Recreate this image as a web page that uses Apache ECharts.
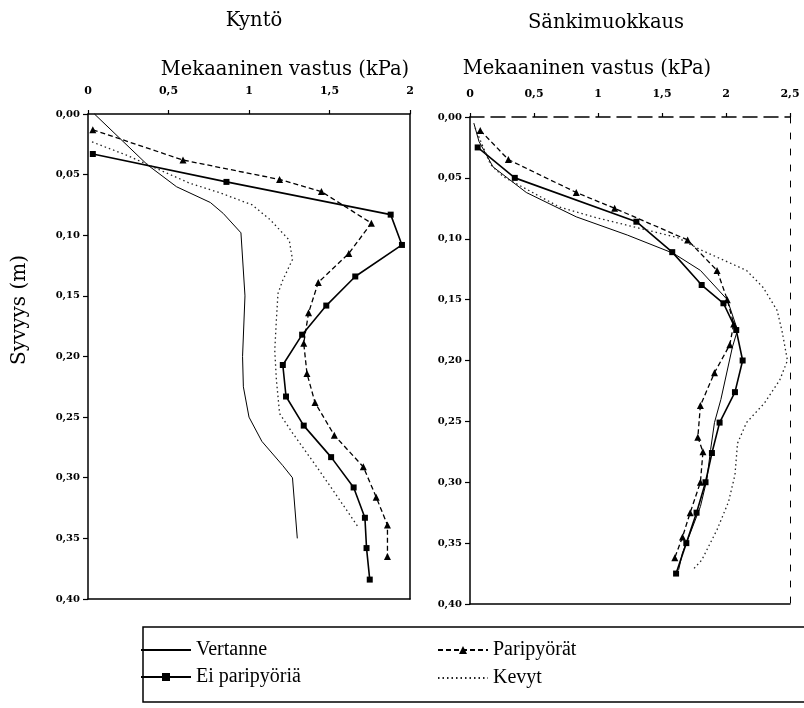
<!DOCTYPE html>
<html>
<head>
<meta charset="utf-8">
<script src="https://cdn.jsdelivr.net/npm/echarts/dist/echarts.min.js"></script>
<style>html,body{margin:0;padding:0;background:#fff}#c{width:804px;height:708px}</style>
</head>
<body>
<div id="c"></div>
<script>
// ---- Tick labels / categories ----
const panelTitles = ['Kyntö', 'Sänkimuokkaus'];
const xAxisTitle = 'Mekaaninen vastus (kPa)';
const yAxisTitle = 'Syvyys (m)';
const seriesNames = ['Vertanne', 'Ei paripyöriä', 'Paripyörät', 'Kevyt'];

// ---- Kyntö (left panel): depth (m) and resistance (kPa) ----
const kyntoVertanneDepth = [0.00, 0.042, 0.06, 0.073, 0.082, 0.098, 0.15, 0.20, 0.225, 0.25, 0.27, 0.29, 0.30, 0.35];
const kyntoVertanne      = [0.04, 0.37, 0.55, 0.76, 0.84, 0.95, 0.975, 0.96, 0.965, 1.00, 1.08, 1.21, 1.27, 1.30];

const kyntoEiDepth = [0.033, 0.056, 0.083, 0.108, 0.134, 0.158, 0.182, 0.207, 0.233, 0.257, 0.283, 0.308, 0.333, 0.358, 0.384];
const kyntoEi      = [0.03, 0.86, 1.88, 1.95, 1.66, 1.48, 1.33, 1.21, 1.23, 1.34, 1.51, 1.65, 1.72, 1.73, 1.75];

const kyntoPariDepth = [0.013, 0.038, 0.054, 0.064, 0.09, 0.115, 0.139, 0.164, 0.189, 0.214, 0.238, 0.265, 0.291, 0.316, 0.339, 0.365];
const kyntoPari      = [0.03, 0.59, 1.19, 1.45, 1.76, 1.62, 1.43, 1.37, 1.34, 1.36, 1.41, 1.53, 1.71, 1.79, 1.86, 1.86];

const kyntoKevytDepth = [0.023, 0.034, 0.057, 0.065, 0.075, 0.087, 0.104, 0.12, 0.137, 0.148, 0.17, 0.195, 0.219, 0.247, 0.263, 0.289, 0.31, 0.341];
const kyntoKevyt      = [0.025, 0.24, 0.63, 0.82, 1.02, 1.13, 1.25, 1.27, 1.21, 1.18, 1.17, 1.16, 1.17, 1.19, 1.27, 1.41, 1.52, 1.68];

// ---- Sänkimuokkaus (right panel) ----
const sankiVertanneDepth = [0.005, 0.02, 0.041, 0.062, 0.082, 0.097, 0.112, 0.126, 0.150, 0.175, 0.189, 0.232, 0.251, 0.273, 0.298, 0.32, 0.342, 0.358, 0.372];
const sankiVertanne      = [0.03, 0.07, 0.18, 0.44, 0.83, 1.23, 1.59, 1.80, 2.01, 2.09, 2.05, 1.96, 1.91, 1.88, 1.85, 1.80, 1.72, 1.66, 1.63];

const sankiEiDepth = [0.025, 0.05, 0.086, 0.111, 0.138, 0.153, 0.175, 0.20, 0.226, 0.251, 0.276, 0.30, 0.325, 0.35, 0.375];
const sankiEi      = [0.06, 0.35, 1.30, 1.58, 1.81, 1.98, 2.08, 2.13, 2.07, 1.95, 1.89, 1.84, 1.77, 1.69, 1.61];

const sankiPariDepth = [0.011, 0.035, 0.062, 0.075, 0.101, 0.126, 0.150, 0.170, 0.187, 0.21, 0.237, 0.263, 0.275, 0.30, 0.325, 0.345, 0.362];
const sankiPari      = [0.08, 0.30, 0.83, 1.13, 1.70, 1.93, 2.01, 2.06, 2.03, 1.91, 1.80, 1.78, 1.82, 1.80, 1.72, 1.66, 1.60];

const sankiKevytDepth = [0.009, 0.039, 0.049, 0.074, 0.082, 0.099, 0.109, 0.126, 0.14, 0.159, 0.177, 0.20, 0.216, 0.235, 0.251, 0.268, 0.294, 0.316, 0.339, 0.364, 0.372];
const sankiKevyt      = [0.04, 0.16, 0.26, 0.70, 0.96, 1.62, 1.80, 2.16, 2.29, 2.40, 2.44, 2.48, 2.42, 2.30, 2.16, 2.09, 2.07, 2.02, 1.93, 1.81, 1.74];

function pairs(vals, depths) { return vals.map((v, i) => [v, depths[i]]); }

const serif = 'Liberation Serif';
const tickFont = 'DejaVu Serif';
const titleFont = '19.5px "DejaVu Serif"';
const comma = (v, d) => Number(v).toFixed(d).replace('.', ',');
const xFmt = v => (v === 0 ? '0' : (Number.isInteger(v) ? String(v) : comma(v, 1)));

function topX(grid, max, dashed) {
  return {
    type: 'value', gridIndex: grid, position: 'top', min: 0, max: max, interval: 0.5,
    axisLine: { show: true, lineStyle: { color: '#000', width: 1.5, type: dashed ? [14, 7] : 'solid' } },
    axisTick: { show: true, length: 4, lineStyle: { color: '#000', width: 1.2 } },
    splitLine: { show: false },
    axisLabel: { formatter: xFmt, fontFamily: tickFont, fontSize: 11, fontWeight: 'bold', color: '#000', margin: 17 }
  };
}
function bottomX(grid, max) {
  return {
    type: 'value', gridIndex: grid, position: 'bottom', min: 0, max: max,
    axisLine: { show: true, onZero: false, lineStyle: { color: '#000', width: 1.5 } },
    axisTick: { show: false }, axisLabel: { show: false }, splitLine: { show: false }
  };
}
function leftY(grid) {
  return {
    type: 'value', gridIndex: grid, position: 'left', inverse: true, min: 0, max: 0.4, interval: 0.05,
    axisLine: { show: true, onZero: false, lineStyle: { color: '#000', width: 1.5 } },
    axisTick: { show: true, length: 5, lineStyle: { color: '#000', width: 1.2 } },
    splitLine: { show: false },
    axisLabel: { formatter: v => comma(v, 2), fontFamily: tickFont, fontSize: 10, fontWeight: 'bold', color: '#000', margin: 8 }
  };
}
function rightY(grid, dotted) {
  return {
    type: 'value', gridIndex: grid, position: 'right', inverse: true, min: 0, max: 0.4,
    axisLine: { show: true, onZero: false, lineStyle: { color: '#000', width: dotted ? 1 : 1.5, type: dotted ? [6, 10] : 'solid' } },
    axisTick: { show: false }, axisLabel: { show: false }, splitLine: { show: false }
  };
}

const styles = {
  'Vertanne':      { symbol: 'none', lineStyle: { color: '#000', width: 1, type: 'solid' } },
  'Ei paripyöriä': { symbol: 'rect', symbolSize: 6, lineStyle: { color: '#000', width: 1.6, type: 'solid' } },
  'Paripyörät':    { symbol: 'triangle', symbolSize: 7, lineStyle: { color: '#000', width: 1.3, type: [5, 3] } },
  'Kevyt':         { symbol: 'none', lineStyle: { color: '#222', width: 1.3, type: [1.5, 3] } }
};

function mk(name, grid, vals, depths) {
  const s = styles[name];
  return {
    name: name, type: 'line', xAxisIndex: grid * 2, yAxisIndex: grid * 2,
    data: pairs(vals, depths), symbol: s.symbol, symbolSize: s.symbolSize || 0,
    showSymbol: s.symbol !== 'none',
    itemStyle: { color: '#000' }, lineStyle: s.lineStyle, smooth: false, clip: false
  };
}

const chart = echarts.init(document.getElementById('c'), null, { renderer: 'canvas' });

const legendBase = (name, left, top, hideSymbol) => ({
  data: [name], left: left, top: top, itemWidth: 50, itemHeight: 10, selectedMode: false,
  itemStyle: hideSymbol ? { opacity: 0 } : {},
  textStyle: { fontFamily: serif, fontSize: 20, color: '#000' }, itemGap: 4, padding: 0
});

chart.setOption({
  animation: false,
  backgroundColor: '#fff',
  grid: [
    { left: 88, top: 114, width: 322, height: 485 },
    { left: 470, top: 117, width: 320, height: 487 }
  ],
  xAxis: [topX(0, 2, false), bottomX(0, 2), topX(1, 2.5, true), bottomX(1, 2.5)],
  yAxis: [leftY(0), rightY(0, false), leftY(1), rightY(1, true)],
  legend: [
    legendBase(seriesNames[0], 140, 640, true),
    legendBase(seriesNames[1], 140, 667, false),
    legendBase(seriesNames[2], 437, 640, false),
    legendBase(seriesNames[3], 437, 668, true)
  ],
  series: [
    mk('Vertanne', 0, kyntoVertanne, kyntoVertanneDepth),
    mk('Ei paripyöriä', 0, kyntoEi, kyntoEiDepth),
    mk('Paripyörät', 0, kyntoPari, kyntoPariDepth),
    mk('Kevyt', 0, kyntoKevyt, kyntoKevytDepth),
    mk('Vertanne', 1, sankiVertanne, sankiVertanneDepth),
    mk('Ei paripyöriä', 1, sankiEi, sankiEiDepth),
    mk('Paripyörät', 1, sankiPari, sankiPariDepth),
    mk('Kevyt', 1, sankiKevyt, sankiKevytDepth)
  ],
  graphic: [
    { type: 'text', style: { x: 254, y: 21, text: panelTitles[0], font: titleFont, fill: '#000', align: 'center', verticalAlign: 'middle' } },
    { type: 'text', style: { x: 606, y: 23, text: panelTitles[1], font: titleFont, fill: '#000', align: 'center', verticalAlign: 'middle' } },
    { type: 'text', style: { x: 285, y: 70, text: xAxisTitle, font: titleFont, fill: '#000', align: 'center', verticalAlign: 'middle' } },
    { type: 'text', style: { x: 587, y: 69, text: xAxisTitle, font: titleFont, fill: '#000', align: 'center', verticalAlign: 'middle' } },
    { type: 'text', rotation: Math.PI / 2, x: 20, y: 310, style: { x: 0, y: 0, text: yAxisTitle, font: '20px "DejaVu Serif"', fill: '#000', align: 'center', verticalAlign: 'middle' } },
    { type: 'rect', shape: { x: 143, y: 627, width: 680, height: 75 }, style: { fill: 'none', stroke: '#000', lineWidth: 1.5 } }
  ]
});
</script>
</body>
</html>
